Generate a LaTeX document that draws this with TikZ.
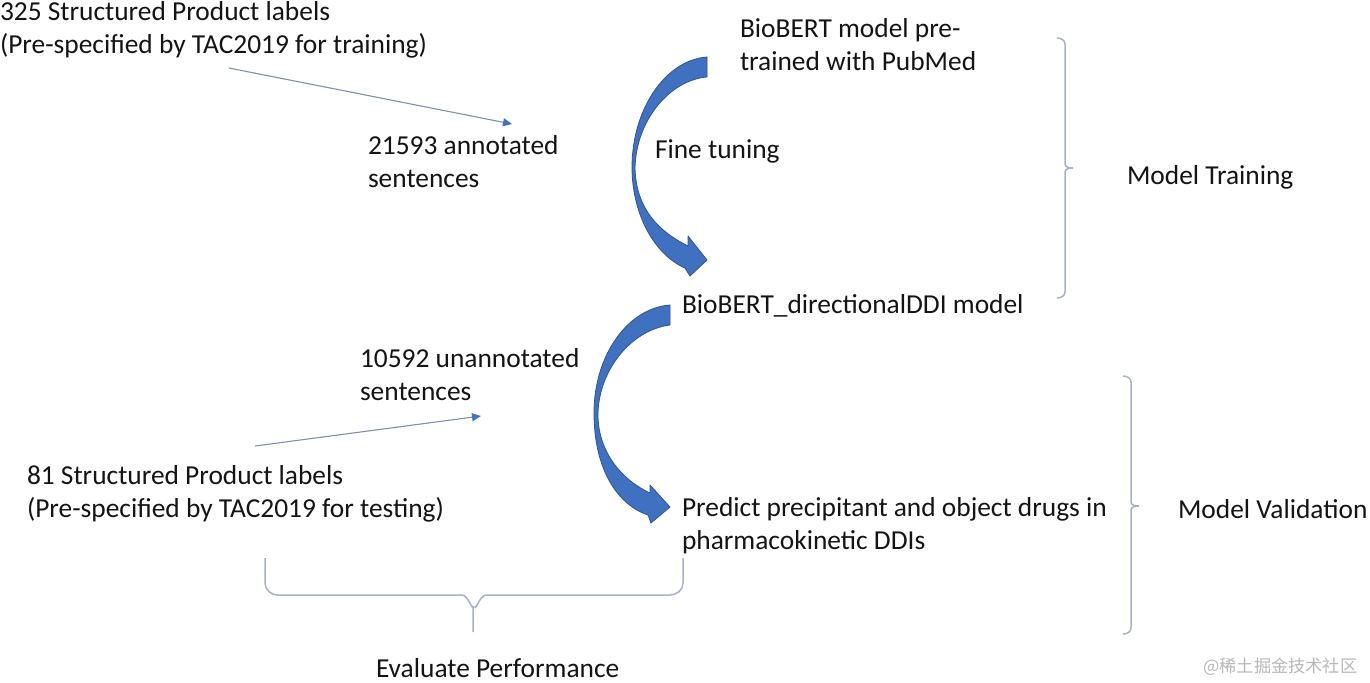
\documentclass[tikz,border=0pt]{standalone}
\usepackage{fontspec}
\setmainfont{Carlito}
\newfontfamily\cjkfont{Noto Sans CJK SC}
\usetikzlibrary{arrows.meta}
\definecolor{txt}{HTML}{141414}
\definecolor{bigblue}{HTML}{4070C0}
\definecolor{bigedge}{HTML}{2F5597}
\definecolor{thinline}{HTML}{8090AC}
\definecolor{tipblue}{HTML}{4472C4}
\definecolor{bracecol}{HTML}{A8B2C4}
\tikzset{
  lbl/.style={anchor=base west, inner sep=0pt, outer sep=0pt, align=left, text=txt,
    font=\fontsize{13.7}{16.3}\selectfont},
  thinarrow/.style={draw=thinline, line width=0.55pt,
    -{Triangle[length=4.5pt,width=4pt,color=tipblue]}},
  bigarrow/.style={fill=bigblue, draw=bigedge, line width=0.4pt, line join=round},
  bracestyle/.style={draw=bracecol, line width=0.75pt},
  wmark/.style={anchor=base west, inner sep=0pt, text=black!28, font=\cjkfont\fontsize{8.6}{10}\selectfont}
}
\begin{document}
\begin{tikzpicture}[x=0.5pt,y=-0.5pt]
\useasboundingbox[fill=white] (0,0) rectangle (1370,682);

% text blocks (base anchor = baseline of last line)
\node[lbl] (train) at (0,53) {325 Structured Product labels\\(Pre-specified by TAC2019 for training)};
\node[lbl] (annot) at (368,187) {21593 annotated\\sentences};
\node[lbl] (pubmed) at (740,70) {BioBERT model pre-\\trained with PubMed};
\node[lbl] (fine) at (655,158) {Fine tuning};
\node[lbl] (mtrain) at (1127,184) {Model Training};
\node[lbl] (ddi) at (682,313) {BioBERT\_directionalDDI model};
\node[lbl] (unannot) at (360,400) {10592 unannotated\\sentences};
\node[lbl] (test) at (27,517) {81 Structured Product labels\\(Pre-specified by TAC2019 for testing)};
\node[lbl] (predict) at (682,549) {Predict precipitant and object drugs in\\pharmacokinetic DDIs};
\node[lbl] (mval) at (1178,518) {Model Validation};
\node[lbl] (eval) at (376,677) {Evaluate Performance};
\node[wmark] (wm) at (1203,672) {@稀土掘金技术社区};

% thin arrows
\coordinate (t1s) at (229,68);
\coordinate (t1e) at (512,124);
\coordinate (t2s) at (255,446);
\coordinate (t2e) at (481,416);
\draw[thinarrow] (t1s) -- (t1e);
\draw[thinarrow] (t2s) -- (t2e);

% big curved arrow 1 (fine tuning)
\path[bigarrow] (707,57) .. controls (665,60) and (632,110) .. (632,167)
  .. controls (632,215) and (655,255) .. (685,268)
  -- (690,276) -- (707,260) -- (688,236) -- (688,246)
  .. controls (660,232) and (636,210) .. (635,168)
  .. controls (636,120) and (670,80) .. (707,77) -- cycle;

% big curved arrow 2
\path[bigarrow] (670,305) .. controls (628,308) and (594,355) .. (594,413)
  .. controls (594,470) and (618,505) .. (648,515)
  -- (651,523) -- (670,507) -- (650,485) -- (650,493)
  .. controls (622,480) and (598,452) .. (598,415)
  .. controls (598,372) and (630,330) .. (670,325) -- cycle;

% braces
\draw[bracestyle] (1057,38) to[out=0,in=90] (1065,44) -- (1065,164)
  to[out=-90,in=180] (1073,168) to[out=180,in=90] (1065,172) -- (1065,292)
  to[out=-90,in=0] (1057,298);
\draw[bracestyle] (1123,376) to[out=0,in=90] (1131,382) -- (1131,502)
  to[out=-90,in=180] (1139,506) to[out=180,in=90] (1131,510) -- (1131,628)
  to[out=-90,in=0] (1123,634);
\draw[bracestyle] (265,558) -- (265,583) to[out=-90,in=180] (278,595) -- (462,595)
  to[out=0,in=-90] (473,606) -- (473,632);
\draw[bracestyle] (683,558) -- (683,583) to[out=-90,in=0] (670,595) -- (486,595)
  to[out=180,in=-90] (475,606);
\end{tikzpicture}
\end{document}
